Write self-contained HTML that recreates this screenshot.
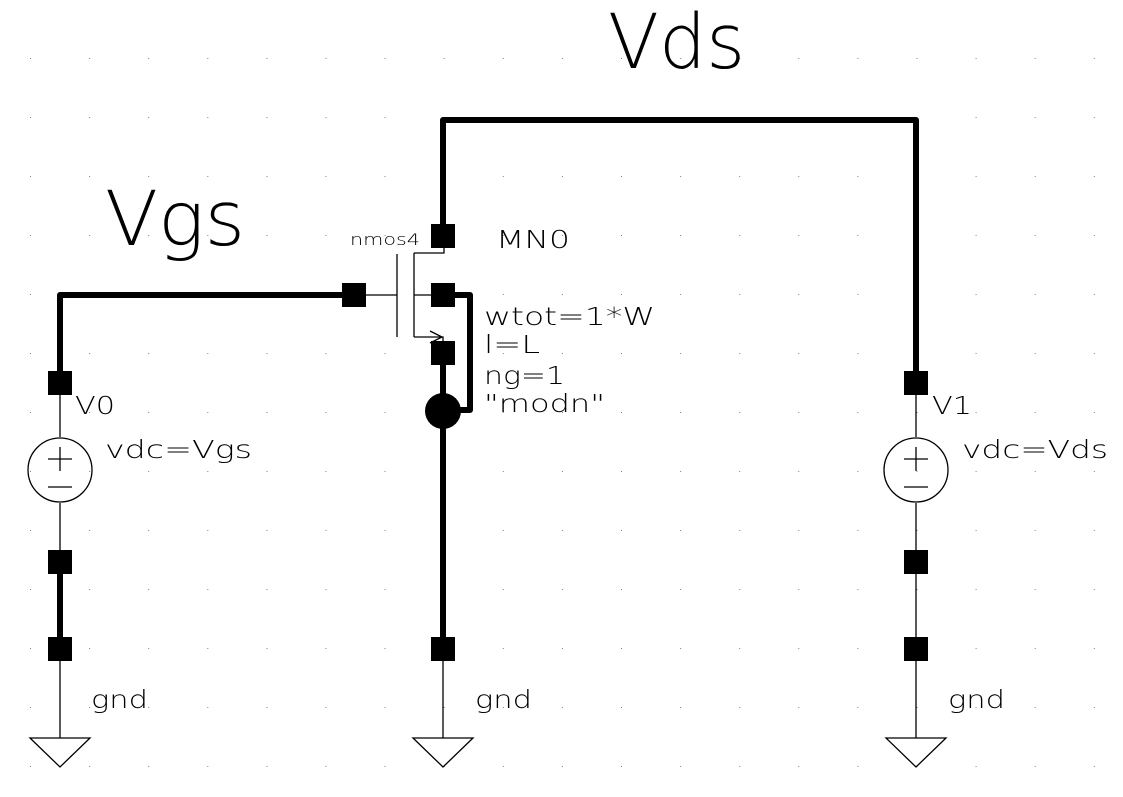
<!DOCTYPE html>
<html><head><meta charset="utf-8"><style>html,body{margin:0;padding:0;background:#fff}svg{display:block}</style></head>
<body>
<svg width="1123" height="797" viewBox="0 0 1123 797" xmlns="http://www.w3.org/2000/svg" font-family="DejaVu Sans ExtraLight, DejaVu Sans, Liberation Sans, sans-serif" font-weight="200">
<defs>
<pattern id="g" x="30" y="0" width="59.1" height="59" patternUnits="userSpaceOnUse">
<rect x="0" y="58.5" width="1" height="1" fill="#000"/>
</pattern>
</defs>
<rect width="1123" height="797" fill="#fff"/>
<rect width="1123" height="797" fill="url(#g)"/>
<g stroke="#000" fill="none">
<g stroke-width="6" stroke-linejoin="round">
<polyline points="60,383 60,295 354,295"/>
<polyline points="443,236 443,120 916,120 916,383"/>
<polyline points="443,295 470,295 470,410 443,410"/>
<line x1="443" y1="352" x2="443" y2="649"/>
<line x1="60" y1="562" x2="60" y2="649"/>
</g>
<g stroke-width="1.3">
<line x1="60" y1="383" x2="60" y2="437"/>
<line x1="60" y1="503" x2="60" y2="562"/>
<line x1="60" y1="649" x2="60" y2="738"/>
<line x1="443" y1="649" x2="443" y2="738"/>
<line x1="916" y1="383" x2="916" y2="437"/>
<line x1="916" y1="503" x2="916" y2="562"/>
<line x1="916" y1="562" x2="916" y2="738"/>
<circle cx="60" cy="470" r="32"/>
<circle cx="916" cy="470" r="32"/>
<line x1="48" y1="459" x2="72" y2="459"/><line x1="60" y1="447" x2="60" y2="471"/>
<line x1="48" y1="487" x2="72" y2="487"/>
<line x1="904" y1="459" x2="928" y2="459"/><line x1="916" y1="447" x2="916" y2="471"/>
<line x1="904" y1="487" x2="928" y2="487"/>
<polygon points="30,738 90,738 60,767"/>
<polygon points="413,738 473,738 443,767"/>
<polygon points="886,738 946,738 916,767"/>
<line x1="354" y1="295" x2="397" y2="295"/>
<line x1="397" y1="254" x2="397" y2="337"/>
<line x1="414" y1="253" x2="414" y2="337"/>
<polyline points="414,253 444,253 444,236"/>
<line x1="414" y1="295" x2="443" y2="295"/>
<polyline points="414,337 443,337 443,352"/>
<polyline points="430,331 442,337 430,343"/>
</g>
</g>
<g fill="#000">
<rect x="48" y="371" width="24" height="24"/>
<rect x="48" y="550" width="24" height="24"/>
<rect x="48" y="637" width="24" height="24"/>
<rect x="342" y="283" width="24" height="24"/>
<rect x="431" y="224" width="24" height="24"/>
<rect x="431" y="283" width="24" height="24"/>
<rect x="431" y="341" width="24" height="24"/>
<rect x="431" y="637" width="24" height="24"/>
<rect x="904" y="371" width="24" height="24"/>
<rect x="904" y="550" width="24" height="24"/>
<rect x="904" y="637" width="24" height="24"/>
<circle cx="443" cy="411" r="18"/>
</g>
<g fill="#000" lengthAdjust="spacingAndGlyphs">
<text x="608" y="68" font-size="76" textLength="137" lengthAdjust="spacingAndGlyphs">Vds</text>
<text x="105" y="245" font-size="76" textLength="140" lengthAdjust="spacingAndGlyphs">Vgs</text>
<text x="350" y="245" font-size="16" textLength="70" lengthAdjust="spacingAndGlyphs">nmos4</text>
<text x="496" y="248" font-size="25" textLength="74" lengthAdjust="spacingAndGlyphs">MN0</text>
<text x="484" y="325" font-size="25" textLength="171" lengthAdjust="spacingAndGlyphs">wtot=1*W</text>
<text x="484" y="353" font-size="25" textLength="56" lengthAdjust="spacingAndGlyphs">l=L</text>
<text x="484" y="384" font-size="25" textLength="81" lengthAdjust="spacingAndGlyphs">ng=1</text>
<text x="484" y="412" font-size="25" textLength="121" lengthAdjust="spacingAndGlyphs">"modn"</text>
<text x="75" y="414" font-size="25" textLength="40" lengthAdjust="spacingAndGlyphs">V0</text>
<text x="105" y="458" font-size="25" textLength="147" lengthAdjust="spacingAndGlyphs">vdc=Vgs</text>
<text x="932" y="414" font-size="25" textLength="40" lengthAdjust="spacingAndGlyphs">V1</text>
<text x="962" y="458" font-size="25" textLength="146" lengthAdjust="spacingAndGlyphs">vdc=Vds</text>
<text x="91" y="708" font-size="25" textLength="57" lengthAdjust="spacingAndGlyphs">gnd</text>
<text x="475" y="708" font-size="25" textLength="57" lengthAdjust="spacingAndGlyphs">gnd</text>
<text x="948" y="708" font-size="25" textLength="57" lengthAdjust="spacingAndGlyphs">gnd</text>
</g>
</svg>
</body></html>
